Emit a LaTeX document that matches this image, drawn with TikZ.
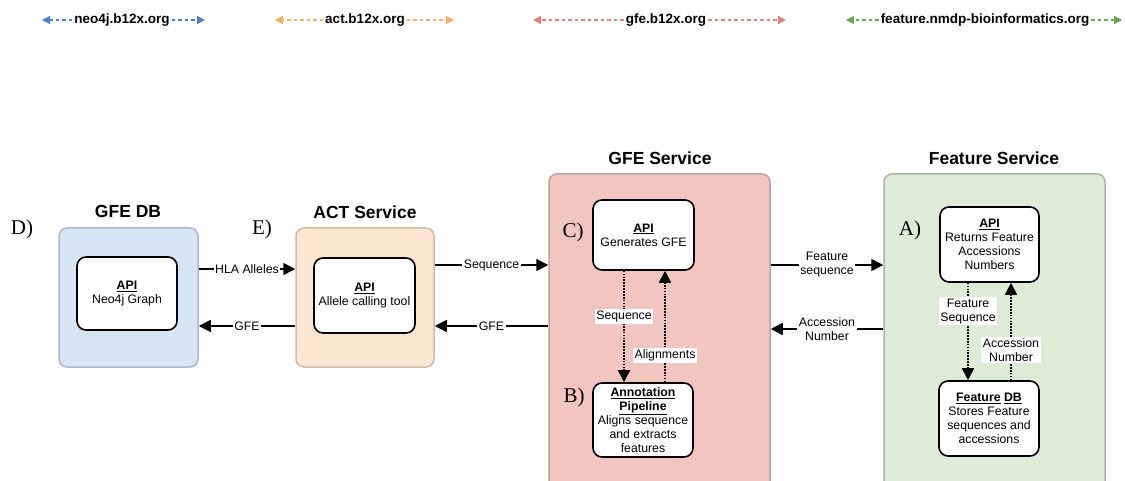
\documentclass[tikz,border=0pt]{standalone}
\usepackage{fontspec}
\setmainfont{Liberation Serif}
\setsansfont{Liberation Sans}
\usetikzlibrary{arrows.meta}
\definecolor{blueF}{HTML}{D6E4F4}
\definecolor{blueB}{HTML}{A9B8C8}
\definecolor{peachF}{HTML}{FCE6D1}
\definecolor{peachB}{HTML}{CDBBA8}
\definecolor{redF}{HTML}{F2C5C0}
\definecolor{redB}{HTML}{B9A2A0}
\definecolor{greenF}{HTML}{DEEBD6}
\definecolor{greenB}{HTML}{AAB5A4}
\definecolor{legBlue}{HTML}{4D7FCF}
\definecolor{legOrange}{HTML}{F5B168}
\definecolor{legRed}{HTML}{DE8077}
\definecolor{legGreen}{HTML}{6BA552}
\begin{document}
\begin{tikzpicture}[x=1pt,y=-1pt, font=\sffamily,
 container/.style={draw, line width=1.5pt, rounded corners=8pt, inner sep=0pt},
 innerbox/.style={draw=black, line width=1.6pt, rounded corners=9pt, fill=white, align=center, inner sep=0pt, font=\sffamily\fontsize{12.3}{14}\selectfont},
 titletext/.style={font=\sffamily\bfseries\fontsize{17.5}{20}\selectfont},
 letter/.style={font=\rmfamily\fontsize{21}{24}\selectfont},
 conn/.style={line width=1.6pt, -{Triangle[length=12pt,width=12pt]}},
 dconn/.style={line width=1.7pt, dash pattern=on 1.7pt off 1.2pt, -{Triangle[length=12pt,width=12pt]}},
 elabel/.style={fill=white, inner sep=1.5pt, font=\sffamily\fontsize{12.3}{14}\selectfont, align=center},
 legtext/.style={font=\sffamily\bfseries\fontsize{13.5}{15}\selectfont, inner sep=2pt},
 leg/.style={line width=1.2pt, dash pattern=on 3.5pt off 3pt, -{Triangle[length=8pt,width=8pt]}}
]
\useasboundingbox (0,0) rectangle (1125,481);
\fill[white] (0,0) rectangle (1125,481);
\begin{scope}
\clip (0,0) rectangle (1125,481);

% legend
\node[legtext] (l1) at (122,20) {neo4j.b12x.org};
\coordinate (l1a) at (42,20); \coordinate (l1b) at (205,20);
\draw[leg,legBlue] (l1.west) -- (l1a);
\draw[leg,legBlue] (l1.east) -- (l1b);
\node[legtext] (l2) at (365,20) {act.b12x.org};
\coordinate (l2a) at (275,20); \coordinate (l2b) at (454,20);
\draw[leg,legOrange] (l2.west) -- (l2a);
\draw[leg,legOrange] (l2.east) -- (l2b);
\node[legtext] (l3) at (666,20) {gfe.b12x.org};
\coordinate (l3a) at (533,20); \coordinate (l3b) at (786,20);
\draw[leg,legRed] (l3.west) -- (l3a);
\draw[leg,legRed] (l3.east) -- (l3b);
\node[legtext] (l4) at (985,20) {feature.nmdp-bioinformatics.org};
\coordinate (l4a) at (846,20); \coordinate (l4b) at (1122,20);
\draw[leg,legGreen] (l4.west) -- (l4a);
\draw[leg,legGreen] (l4.east) -- (l4b);

% containers
\node[container, fill=blueF, draw=blueB, minimum width=139pt, minimum height=139pt] (gfedb) at (128.5,297.5) {};
\node[container, fill=peachF, draw=peachB, minimum width=138pt, minimum height=139pt] (actsvc) at (365,297.5) {};
\node[container, fill=redF, draw=redB, minimum width=221pt, minimum height=332pt] (gfesvc) at (659.5,340) {};
\node[container, fill=greenF, draw=greenB, minimum width=221pt, minimum height=332pt] (featsvc) at (994.5,340) {};

% titles
\node[titletext] (t1) at (128,211) {GFE DB};
\node[titletext] (t2) at (365,212) {ACT Service};
\node[titletext] (t3) at (660,158) {GFE Service};
\node[titletext] (t4) at (994,158) {Feature Service};

% letters
\node[letter] (lD) at (22,229) {D)};
\node[letter] (lE) at (262,229) {E)};
\node[letter] (lC) at (573,232) {C)};
\node[letter] (lB) at (574,397) {B)};
\node[letter] (lA) at (910,230) {A)};

% inner boxes
\node[innerbox, minimum width=100pt, minimum height=73pt] (neo) at (127,293.5) {\underline{\textbf{API}}\\Neo4j Graph};
\node[innerbox, minimum width=101pt, minimum height=75pt] (actapi) at (364.5,295.5) {\underline{\textbf{API}}\\Allele calling tool};
\node[innerbox, minimum width=101pt, minimum height=70pt] (gfeapi) at (643.5,235) {\underline{\textbf{API}}\\Generates GFE};
\node[innerbox, minimum width=100pt, minimum height=74pt] (annot) at (643,420) {\underline{\textbf{Annotation}}\\\underline{\textbf{Pipeline}}\\Aligns sequence\\and extracts\\features};
\node[innerbox, minimum width=99pt, minimum height=75pt] (featapi) at (989.5,244.5) {\underline{\textbf{API}}\\Returns Feature\\Accessions\\Numbers};
\node[innerbox, minimum width=100pt, minimum height=75pt] (featdb) at (989,418.5) {\textbf{\underline{Feature} \underline{DB}}\\Stores Feature\\sequences and\\accessions};

% connectors between services
\draw[conn] (gfedb.east |- 0,269) -- node[elabel] {HLA Alleles} (actsvc.west |- 0,269);
\draw[conn] (actsvc.west |- 0,326) -- node[elabel] {GFE} (gfedb.east |- 0,326);
\draw[conn] (actsvc.east |- 0,265) -- node[elabel] {Sequence} (gfesvc.west |- 0,265);
\draw[conn] (gfesvc.west |- 0,326) -- node[elabel] {GFE} (actsvc.east |- 0,326);
\draw[conn] (gfesvc.east |- 0,265) -- node[elabel] {Feature\\sequence} (featsvc.west |- 0,265);
\draw[conn] (featsvc.west |- 0,329) -- node[elabel] {Accession\\Number} (gfesvc.east |- 0,329);

% internal dotted connectors
\draw[dconn] (gfeapi.south -| 624,0) -- node[elabel,pos=0.41] {Sequence} (annot.north -| 624,0);
\draw[dconn] (annot.north -| 665,0) -- node[elabel,pos=0.24] {Alignments} (gfeapi.south -| 665,0);
\draw[dconn] (featapi.south -| 968,0) -- node[elabel,pos=0.29] {Feature\\Sequence} (featdb.north -| 968,0);
\draw[dconn] (featdb.north -| 1011,0) -- node[elabel,pos=0.31] {Accession\\Number} (featapi.south -| 1011,0);
\end{scope}
\end{tikzpicture}
\end{document}
